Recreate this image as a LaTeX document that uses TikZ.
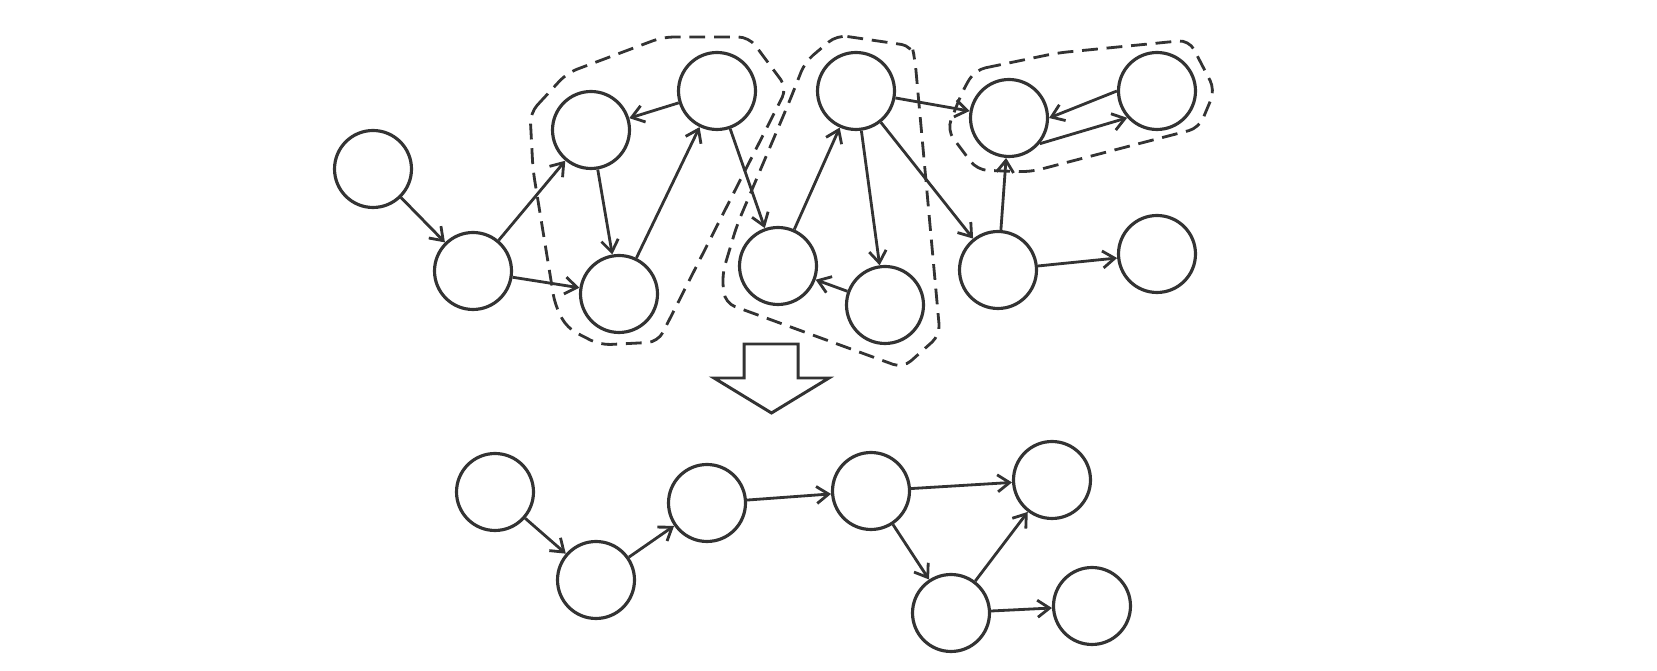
\documentclass[tikz,border=0pt]{standalone}
\usepackage{tikz}
\usetikzlibrary{arrows.meta}

\begin{document}
\begin{tikzpicture}[x=0.02cm, y=-0.02cm,
    vtx/.style={circle, draw=black!80, line width=1.8pt, minimum size=1.54cm, inner sep=0pt},
    edge/.style={draw=black!80, line width=1.6pt, -{Straight Barb[length=2.4mm,width=3.4mm]}},
    grp/.style={draw=black!80, line width=1.6pt, dash pattern=on 9pt off 5pt, rounded corners=6pt},
    bigarrow/.style={draw=black!80, line width=1.7pt, line join=miter}]
    \useasboundingbox (0,0) rectangle (1657,671);

    % 上图节点
    \node[vtx] (a1) at (373,169) {}; \node[vtx] (a2) at (473,271) {};
    \node[vtx] (a3) at (591,130) {}; \node[vtx] (a4) at (619,294) {}; \node[vtx] (a5) at (717,91) {};
    \node[vtx] (b1) at (856,91) {}; \node[vtx] (b2) at (778,266) {}; \node[vtx] (b3) at (885,305) {};
    \node[vtx] (c1) at (1009,118) {}; \node[vtx] (c2) at (1157,91) {};
    \node[vtx] (d1) at (998,270) {}; \node[vtx] (d2) at (1157,254) {};

    % 上图的边
    \draw[edge] (a1) -- (a2); \draw[edge] (a2) -- (a3); \draw[edge] (a2) -- (a4);
    \draw[edge] (a3) -- (a4); \draw[edge] (a4) -- (a5); \draw[edge] (a5) -- (a3);
    \draw[edge] (a5) -- (b2); \draw[edge] (b2) -- (b1); \draw[edge] (b1) -- (b3); \draw[edge] (b3) -- (b2);
    \draw[edge] (b1) -- (c1); \draw[edge] (b1) -- (d1); \draw[edge] (d1) -- (c1); \draw[edge] (d1) -- (d2);
    \draw[edge] (c2.180) -- (c1.0); \draw[edge] (c1.-40) -- (c2.-138);

    % 虚线分组
    \draw[grp] (530,113) -- (567,73) -- (663,37) -- (749,37) -- (787,88) -- (658,342)
        -- (600,345) -- (567,328) -- (555,305) -- (533,170) -- cycle;
    \draw[grp] (837,35) -- (912,46) -- (915,60) -- (940,335) -- (903,368) -- (725,303)
        -- (722,275) -- (737,225) -- (790,100) -- (805,62) -- cycle;
    \draw[grp] (975,70) -- (1057,53) -- (1189,40) -- (1215,90) -- (1199,128) -- (1030,172)
        -- (977,170) -- (947,130) -- (963,90) -- cycle;

    % 空心箭头
    \draw[bigarrow] (744,344) -- (798,344) -- (798,378) -- (829,378) -- (771.5,413)
        -- (714,378) -- (744,378) -- cycle;

    % 下图节点
    \node[vtx] (m1) at (495,492) {}; \node[vtx] (m2) at (596,580) {}; \node[vtx] (m3) at (707,503) {};
    \node[vtx] (m4) at (871,491) {}; \node[vtx] (m5) at (1052,480) {};
    \node[vtx] (m6) at (951,613) {}; \node[vtx] (m7) at (1092,606) {};

    % 下图的边
    \draw[edge] (m1) -- (m2); \draw[edge] (m2) -- (m3); \draw[edge] (m3) -- (m4);
    \draw[edge] (m4) -- (m5); \draw[edge] (m4) -- (m6); \draw[edge] (m6) -- (m5); \draw[edge] (m6) -- (m7);
\end{tikzpicture}
\end{document}
